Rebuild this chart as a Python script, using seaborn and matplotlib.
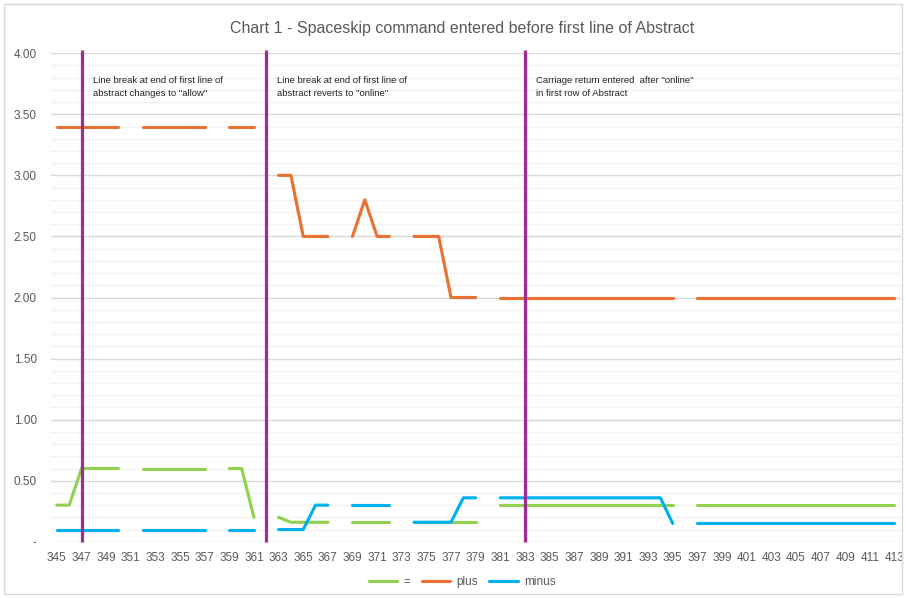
import numpy as np
import pandas as pd
import matplotlib
matplotlib.use("Agg")
import matplotlib.pyplot as plt
import seaborn as sns
from matplotlib.patches import Rectangle

nan = np.nan

# Row numbers along the x axis
x_vals = list(range(345, 414))

# "=" series (gaps are nan)
eq_vals = [0.3, 0.3, 0.6, 0.6, 0.6, 0.6, nan,
           0.6, 0.6, 0.6, 0.6, 0.6, 0.6, nan,
           0.6, 0.6, 0.2, nan,
           0.2, 0.16, 0.16, 0.16, 0.16, nan,
           0.16, 0.16, 0.16, 0.16, nan,
           0.16, 0.16, 0.16, 0.16, 0.16, 0.16, nan,
           0.3, 0.3, 0.3, 0.3, 0.3, 0.3, 0.3, 0.3, 0.3, 0.3, 0.3, 0.3, 0.3, 0.3, 0.3, nan,
           0.3, 0.3, 0.3, 0.3, 0.3, 0.3, 0.3, 0.3, 0.3, 0.3, 0.3, 0.3, 0.3, 0.3, 0.3, 0.3, 0.3]

plus_vals = [3.4, 3.4, 3.4, 3.4, 3.4, 3.4, nan,
             3.4, 3.4, 3.4, 3.4, 3.4, 3.4, nan,
             3.4, 3.4, 3.4, nan,
             3.0, 3.0, 2.5, 2.5, 2.5, nan,
             2.5, 2.8, 2.5, 2.5, nan,
             2.5, 2.5, 2.5, 2.0, 2.0, 2.0, nan,
             2.0, 2.0, 2.0, 2.0, 2.0, 2.0, 2.0, 2.0, 2.0, 2.0, 2.0, 2.0, 2.0, 2.0, 2.0, nan,
             2.0, 2.0, 2.0, 2.0, 2.0, 2.0, 2.0, 2.0, 2.0, 2.0, 2.0, 2.0, 2.0, 2.0, 2.0, 2.0, 2.0]

minus_vals = [0.1, 0.1, 0.1, 0.1, 0.1, 0.1, nan,
              0.1, 0.1, 0.1, 0.1, 0.1, 0.1, nan,
              0.1, 0.1, 0.1, nan,
              0.1, 0.1, 0.1, 0.3, 0.3, nan,
              0.3, 0.3, 0.3, 0.3, nan,
              0.16, 0.16, 0.16, 0.16, 0.36, 0.36, nan,
              0.36, 0.36, 0.36, 0.36, 0.36, 0.36, 0.36, 0.36, 0.36, 0.36, 0.36, 0.36, 0.36, 0.36, 0.15, nan,
              0.15, 0.15, 0.15, 0.15, 0.15, 0.15, 0.15, 0.15, 0.15, 0.15, 0.15, 0.15, 0.15, 0.15, 0.15, 0.15, 0.15]

series_names = ["=", "plus", "minus"]
series_colors = ["#92D050", "#E97132", "#00B0F0"]

# Events marked with vertical lines
event_x = [347, 362, 383]
event_text = [
    'Line break at end of first line of\nabstract changes to "allow"',
    'Line break at end of first line of\nabstract reverts to "online"',
    'Carriage return entered  after "online"\nin first row of Abstract',
]

TITLE = "Chart 1 - Spaceskip command entered before first line of Abstract"

# Build long table, one unit per unbroken segment
rows = []
for name, vals in zip(series_names, [eq_vals, plus_vals, minus_vals]):
    seg = 0
    for xv, v in zip(x_vals, vals):
        if np.isnan(v):
            seg += 1
            continue
        rows.append({"x": xv, "value": v, "series": name, "seg": f"{name}_{seg}"})
df = pd.DataFrame(rows)

sns.set_theme(style="white")
plt.rcParams["font.family"] = ["Liberation Sans", "DejaVu Sans"]
grey = "#595959"

fig = plt.figure(figsize=(9.06, 5.98), dpi=100)
ax = fig.add_axes([0.056, 0.094, 0.938, 0.817])

sns.lineplot(data=df, x="x", y="value", hue="series", units="seg", estimator=None,
             hue_order=series_names, palette=dict(zip(series_names, series_colors)),
             lw=2.25, ax=ax, sort=True)

ax.vlines(event_x, 0, 4.03, color="#A02B93", lw=2.3, clip_on=False, zorder=5)
for ex, txt in zip(event_x, event_text):
    ax.text(ex + 0.9, 3.81, txt, fontsize=6.8, color="#222222", va="top", ha="left",
            linespacing=1.5)

ax.set_xlim(344.5, 413.5)
ax.set_ylim(0, 4)
ax.set_xticks(range(345, 414, 2))
ax.set_yticks(np.arange(0, 4.01, 0.5))
ax.set_yticks(np.arange(0, 4.01, 0.1), minor=True)
ax.set_yticklabels(["-" if v == 0 else f"{v:.2f}" for v in np.arange(0, 4.01, 0.5)])
ax.grid(True, axis="y", which="major", color="#D9D9D9", lw=1)
ax.grid(True, axis="y", which="minor", color="#F2F2F2", lw=1)
ax.set_axisbelow(True)
ax.tick_params(axis="both", which="both", length=0, labelsize=8.5, labelcolor=grey)
ax.tick_params(axis="y", pad=10)
ax.tick_params(axis="x", pad=7)
for s in ax.spines.values():
    s.set_visible(False)
ax.set_xlabel("")
ax.set_ylabel("")

handles, labels = ax.get_legend_handles_labels()
ax.get_legend().remove()
fig.legend(handles, labels, loc="center", bbox_to_anchor=(0.51, 0.027), ncol=3,
           frameon=False, fontsize=8.5, labelcolor=grey, handlelength=2.4,
           handletextpad=0.5, columnspacing=1.0)

fig.text(0.51, 0.953, TITLE, ha="center", va="center", fontsize=11.5, color=grey)
fig.patches.append(Rectangle((0.004, 0.006), 0.992, 0.988, transform=fig.transFigure,
                             fill=False, edgecolor="#D9D9D9", lw=1))

fig.savefig("out.png", dpi=100)
